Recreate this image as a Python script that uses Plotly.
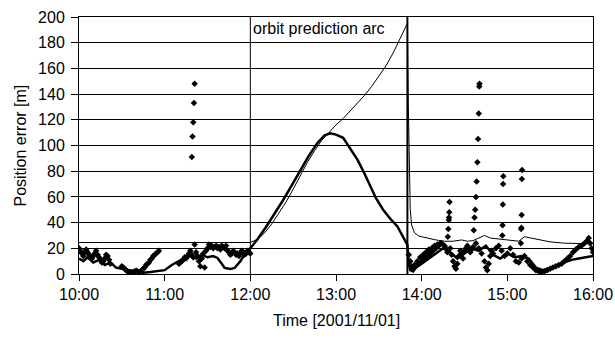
import plotly.graph_objects as go

DAY = "2001-11-01 "

# ---- data ----
# thin line: orbit-prediction solution
thin_times = ["10:00", "12:00", "12:05", "12:10", "12:15", "12:20", "12:25", "12:30", "12:35",
              "12:40", "12:45", "12:50", "12:55", "13:00", "13:05", "13:10", "13:15", "13:20",
              "13:25", "13:30", "13:35", "13:40", "13:45", "13:48", "13:50", "13:50:40",
              "13:51:20", "13:52", "13:53", "13:55", "13:58", "14:03", "14:10", "14:16",
              "14:22", "14:28", "14:32", "14:36", "14:40", "14:44", "14:48", "14:55", "15:02",
              "15:08", "15:12", "15:16", "15:22", "15:30", "15:40", "15:50", "16:00"]
thin_values = [24.5, 24.5, 27, 32, 39, 47, 56, 66, 77,
               87, 96, 104, 110, 116, 121, 127, 133, 139,
               146, 154, 162, 172, 184, 190, 195, 130,
               70, 50, 38, 32, 29.5, 28, 26.5, 25.5,
               25.5, 26.5, 25.5, 26, 28, 30, 28, 27, 26,
               25.5, 29, 28, 26.5, 25, 24, 23.5, 23.5]

# thick line: filtered solution
thick_times = ["10:00", "10:03", "10:06", "10:10", "10:14", "10:18", "10:22", "10:26", "10:30",
               "10:35", "10:40", "10:45", "10:50", "10:55", "11:00", "11:05", "11:10", "11:14",
               "11:18", "11:22", "11:26", "11:30", "11:34", "11:37", "11:40", "11:42", "11:46",
               "11:49", "11:53", "11:58", "12:00", "12:05", "12:11", "12:17", "12:23", "12:29",
               "12:35", "12:41", "12:47", "12:52", "12:56", "13:00", "13:05", "13:10", "13:15",
               "13:20", "13:24", "13:28", "13:33", "13:38", "13:43", "13:47", "13:50", "13:51",
               "13:52", "13:54", "13:56", "14:00", "14:05", "14:10", "14:15", "14:20", "14:25",
               "14:30", "14:35", "14:40", "14:45", "14:50", "14:55", "15:00", "15:05", "15:10",
               "15:15", "15:20", "15:25", "15:30", "15:35", "15:40", "15:45", "15:50", "15:55",
               "16:00"]
thick_values = [12, 10, 13, 9, 11, 7, 9, 5, 4,
                3, 2, 1, 1.5, 2, 3, 7, 10, 12.5,
                14, 12, 15, 13, 14, 12.5, 8, 4.7, 4,
                4.7, 10, 18.7, 20, 27, 36.6, 47, 57.6, 69,
                81, 92, 102, 108, 109.5, 108.5, 106, 98, 89,
                78, 68, 59, 50, 43, 37, 29, 22.6, 8,
                3, 2, 5, 8, 12, 16, 20, 17, 12,
                16, 20, 18, 22, 15, 12, 16, 13, 14,
                12, 5, 3, 5, 7, 9, 11, 12, 13,
                14]

# diamonds: single-epoch solutions
dia_times = ["10:00", "10:01", "10:02", "10:03", "10:04", "10:05", "10:06", "10:07", "10:08",
             "10:09", "10:10", "10:11", "10:12", "10:13", "10:14", "10:15", "10:16", "10:17",
             "10:18", "10:19", "10:20", "10:21", "10:22",
             "10:30", "10:31", "10:32", "10:33", "10:34", "10:35", "10:36", "10:37", "10:38",
             "10:39", "10:40", "10:41", "10:42", "10:43", "10:44", "10:45", "10:46", "10:47",
             "10:48", "10:49", "10:50", "10:51", "10:52", "10:53", "10:54", "10:55", "10:56",
             "11:10", "11:11", "11:12", "11:13", "11:14", "11:15", "11:16", "11:17", "11:18",
             "11:19", "11:20",
             "11:19:00", "11:19:30", "11:20:00", "11:20:30", "11:21:00",
             "11:21", "11:22", "11:23", "11:24", "11:25", "11:26", "11:27", "11:28", "11:29",
             "11:30", "11:31", "11:32", "11:33", "11:34", "11:35", "11:36", "11:37", "11:38",
             "11:39", "11:40", "11:41", "11:42", "11:43", "11:44", "11:45", "11:46", "11:47",
             "11:48", "11:49", "11:50", "11:51", "11:52", "11:53", "11:54", "11:55", "11:56",
             "11:57", "11:58", "11:59", "12:00",
             "13:51", "13:52", "13:53", "13:54", "13:55", "13:56", "13:57", "13:58", "13:59",
             "14:00", "14:01", "14:02", "14:03", "14:04", "14:05", "14:06", "14:07", "14:08",
             "14:09", "14:10", "14:11", "14:12", "14:13", "14:14", "14:16", "14:17", "14:18",
             "14:18:20", "14:18:40", "14:19:00", "14:19:10", "14:19:20", "14:19:30",
             "14:20", "14:21", "14:22", "14:23", "14:24", "14:25", "14:26", "14:27", "14:28",
             "14:29", "14:30", "14:31", "14:32", "14:33", "14:34", "14:35", "14:36",
             "14:36:30", "14:37:00", "14:37:30", "14:38:00", "14:38:30", "14:39:00", "14:39:30",
             "14:40:00", "14:40:20", "14:40:30",
             "14:38", "14:40", "14:42", "14:44", "14:45", "14:46", "14:47", "14:48", "14:49",
             "14:50", "14:52", "14:54",
             "14:56:30", "14:56:40", "14:56:50", "14:57:00", "14:57:10",
             "14:56", "14:58", "15:00", "15:02", "15:04", "15:06", "15:08",
             "15:09:30", "15:09:40", "15:09:50", "15:10:00", "15:10:10", "15:10:20",
             "15:10", "15:12", "15:14", "15:16", "15:18", "15:20", "15:22", "15:24", "15:26",
             "15:28", "15:30", "15:32", "15:34", "15:36", "15:38", "15:40", "15:42", "15:44",
             "15:46", "15:48", "15:50", "15:52", "15:54", "15:56", "15:57", "15:58", "15:59",
             "16:00"]
dia_values = [20, 18, 16, 14, 17, 19, 17, 15, 13,
              12, 14, 16, 18, 15, 13, 11, 9, 10,
              12, 15, 14, 11, 8,
              6, 5, 4, 3, 2, 1.5, 1, 1, 1.5,
              2, 2.5, 2, 1.5, 2, 3, 4, 5, 7,
              8, 9, 11, 12, 14, 15, 16, 17, 18,
              8, 9, 10, 11, 13, 12, 14, 16, 18,
              15, 13,
              91, 107, 118, 133, 148,
              23, 17, 14, 10, 6, 12, 16, 5, 18,
              20, 23, 21, 22, 20, 21, 22, 20, 21,
              19, 22, 21, 20, 22, 18, 17, 15, 16,
              18, 17, 15, 16, 14, 16, 18, 17, 15,
              16, 18, 17, 16,
              15, 10, 6, 4, 7, 6, 10, 8, 13,
              10, 15, 12, 17, 14, 19, 16, 20, 18,
              22, 20, 23, 22, 24, 24, 22, 20, 17,
              29, 35, 42, 44, 48, 56,
              20, 15, 10, 6, 4, 8, 14, 18, 16,
              12, 18, 20, 22, 20, 17, 19, 21,
              34, 44, 50, 60, 72, 87, 105,
              125, 146, 148,
              24, 20, 16, 10, 5, 3, 8, 14, 18,
              16, 20, 22,
              30, 38, 54, 70, 76,
              18, 14, 16, 20, 15, 10, 9,
              24, 35, 36, 46, 74, 81,
              12, 14, 10, 7, 5, 3, 2, 1.5, 2,
              3, 4, 5, 6, 7, 8, 10, 12, 14,
              17, 19, 21, 22, 24, 26, 28, 24, 20,
              17]

arc_start = "12:00"
arc_end = "13:50"
arc_label = "orbit prediction arc"
x_title = "Time [2001/11/01]"
y_title = "Position error [m]"


def ts(hm):
    return DAY + (hm if hm.count(":") == 2 else hm + ":00")


fig = go.Figure()

fig.add_trace(go.Scatter(
    x=[ts(t) for t in thin_times], y=thin_values, mode="lines",
    line=dict(color="black", width=1), showlegend=False))

fig.add_trace(go.Scatter(
    x=[ts(t) for t in dia_times], y=dia_values, mode="markers",
    marker=dict(symbol="diamond", size=5, color="black"), showlegend=False))

fig.add_trace(go.Scatter(
    x=[ts(t) for t in thick_times], y=thick_values, mode="lines",
    line=dict(color="black", width=2.5), showlegend=False))

fig.add_vline(x=ts(arc_start), line=dict(color="black", width=1))
fig.add_vline(x=ts(arc_end), line=dict(color="black", width=2))

fig.add_annotation(x=ts(arc_start), y=200, text=arc_label, showarrow=False,
                   xanchor="left", yanchor="top", xshift=1, yshift=-1,
                   font=dict(size=16, color="black"))

# axis titles placed as paper annotations
fig.add_annotation(xref="paper", yref="paper", x=0.5, y=0, text=x_title,
                   showarrow=False, xanchor="center", yanchor="middle", yshift=-46,
                   font=dict(size=16, color="black"))
fig.add_annotation(xref="paper", yref="paper", x=0, y=0.5, text=y_title,
                   showarrow=False, xanchor="center", yanchor="middle", xshift=-59,
                   textangle=-90, font=dict(size=16, color="black"))

FONT = "Liberation Sans, Arial, sans-serif"

fig.update_layout(
    width=615, height=339,
    margin=dict(l=79, r=22, t=17, b=65),
    paper_bgcolor="white", plot_bgcolor="white",
    font=dict(family=FONT, size=16, color="black"),
    hovermode=False,
    xaxis=dict(
        type="date", automargin=False,
        range=[ts("10:00"), ts("16:00")],
        tickformat="%H:%M", dtick=3600000, tick0=ts("10:00"),
        showgrid=False, zeroline=False,
        showline=True, linecolor="black", linewidth=1, mirror=True,
        ticks="outside", ticklen=6, tickcolor="black",
        tickfont=dict(size=16),
    ),
    yaxis=dict(
        automargin=False,
        range=[0, 200], dtick=20, tick0=0,
        showgrid=True, gridcolor="black", gridwidth=1, zeroline=False,
        showline=True, linecolor="black", linewidth=1, mirror=True,
        ticks="outside", ticklen=7, tickcolor="black",
        tickfont=dict(size=16), ticklabelstandoff=3,
    ),
)

# remove the page's default body margin so the 615x339 figure fills the window exactly
fig.write_html("out.html",
               config={"displayModeBar": False, "staticPlot": True},
               post_script="document.body.style.margin='0';document.body.style.overflow='hidden';")
